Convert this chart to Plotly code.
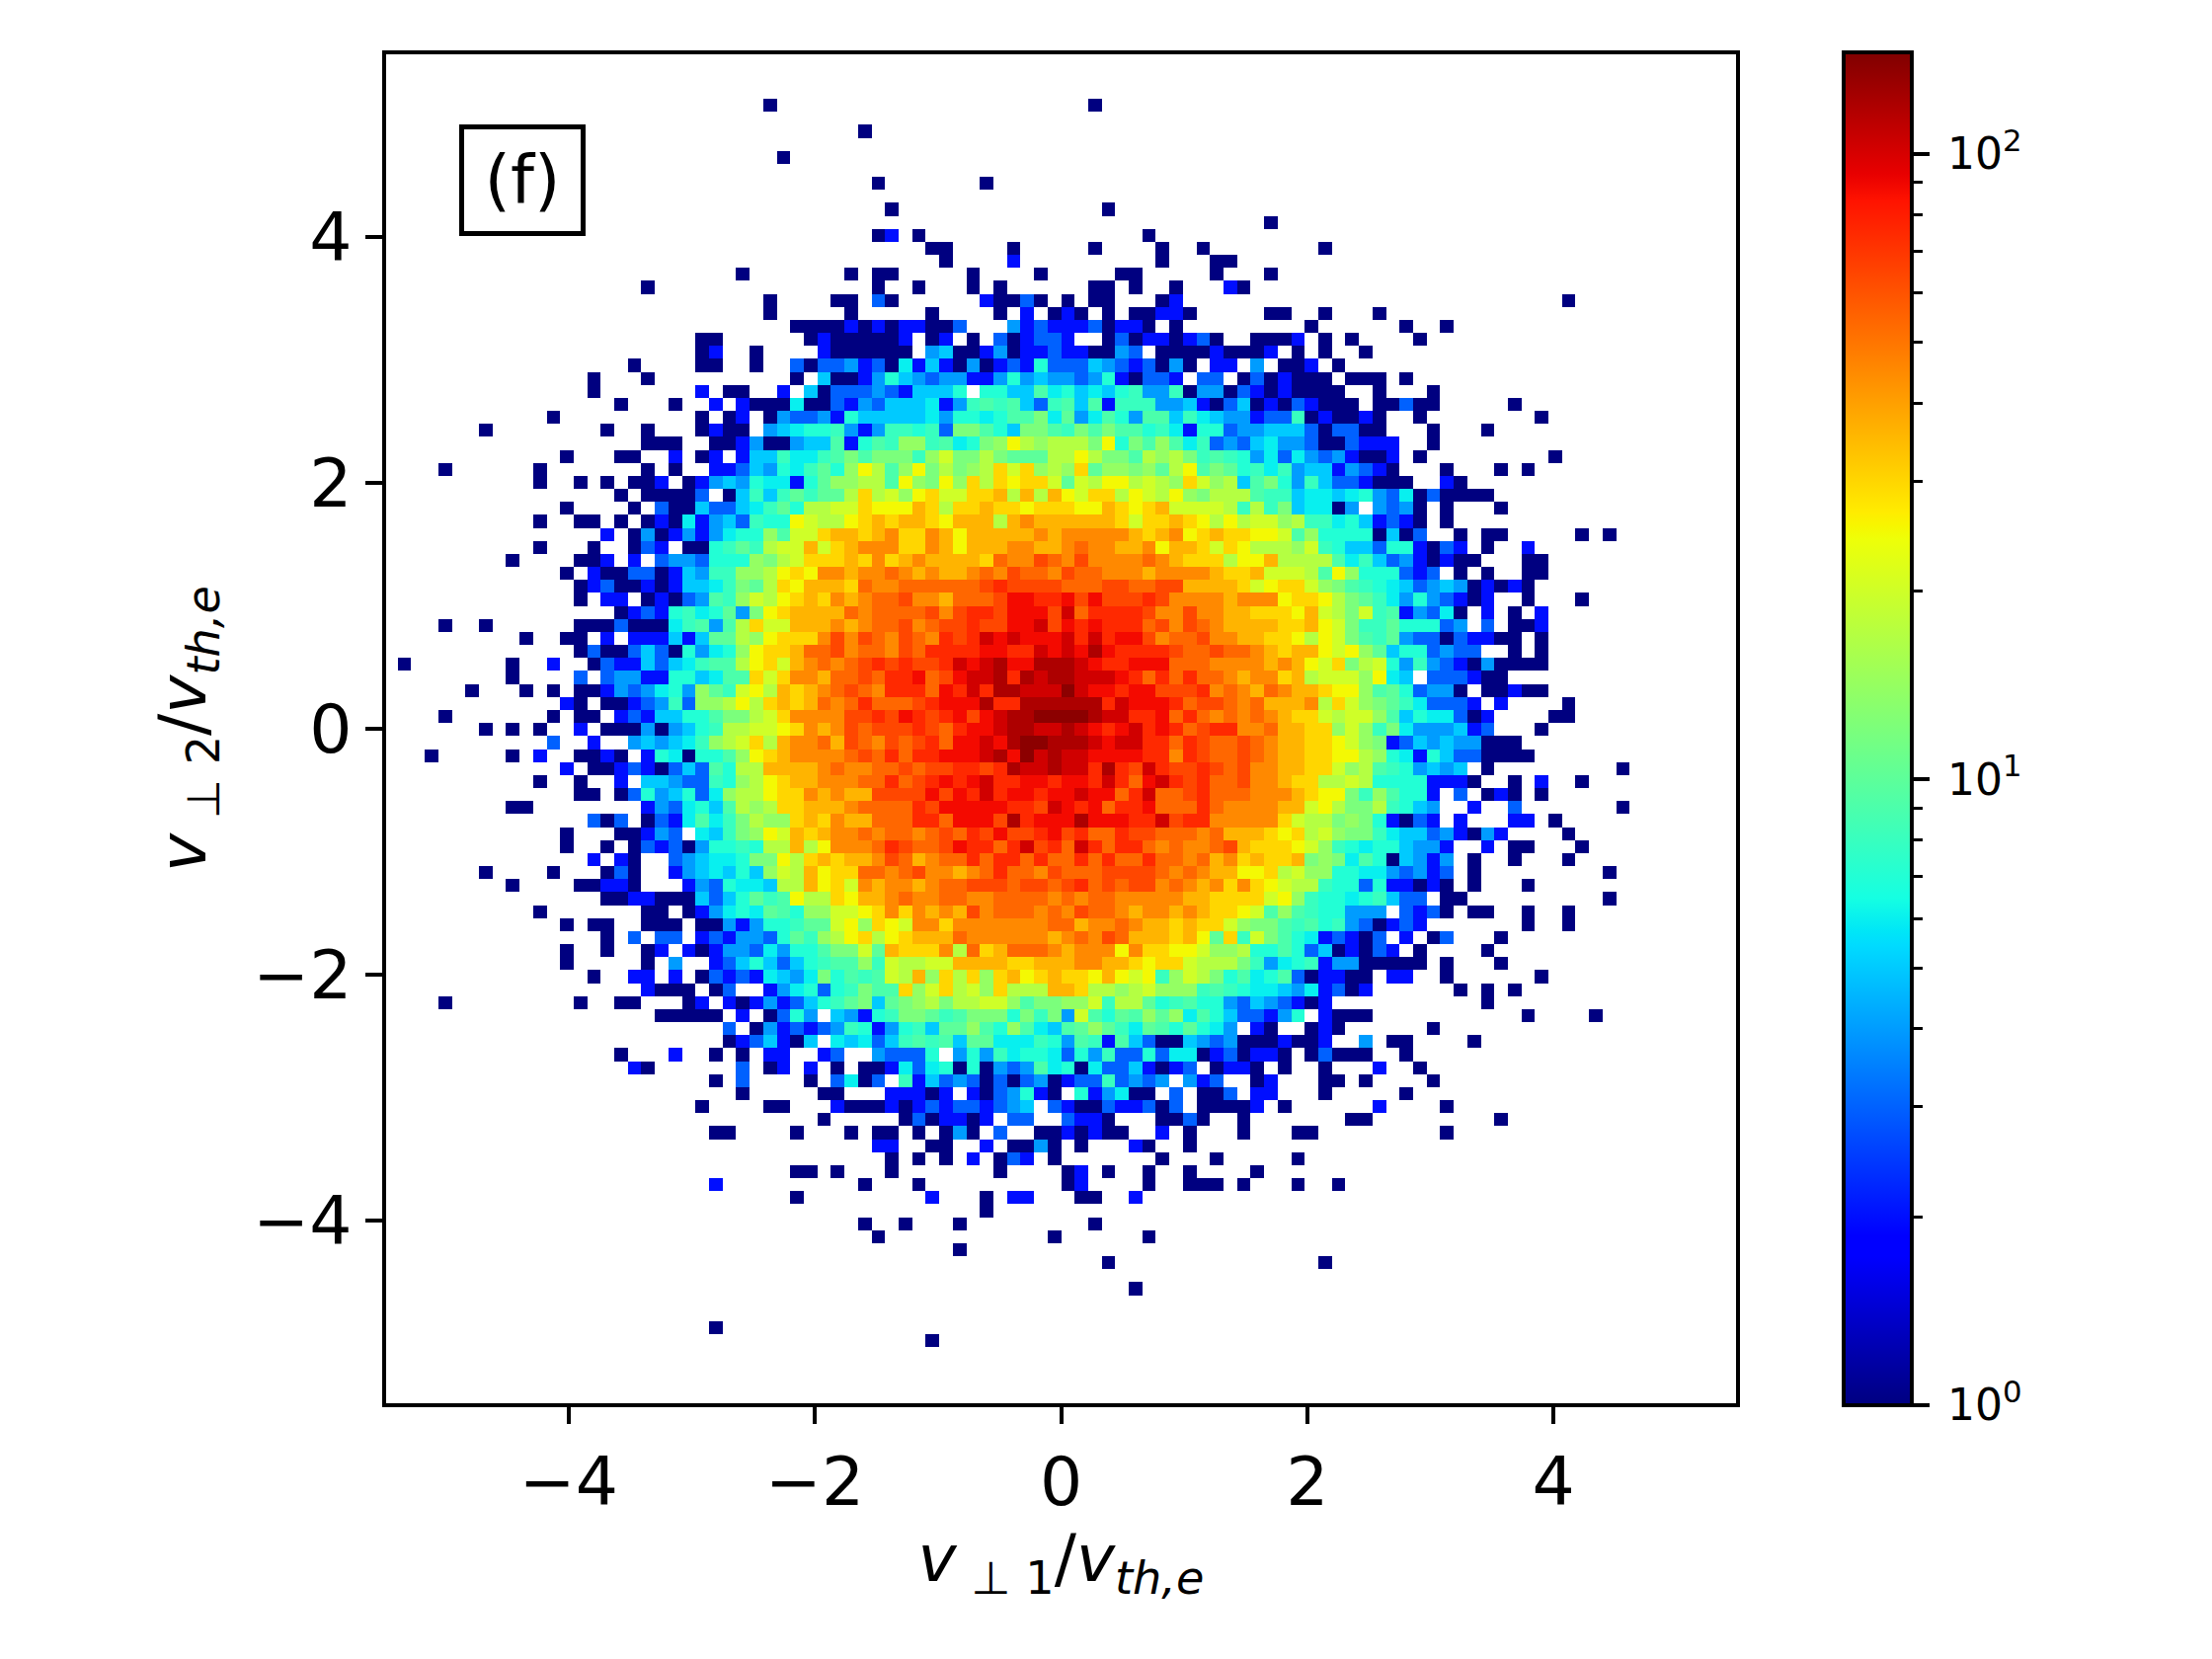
import math
import plotly.graph_objects as go

# Histogram counts, row by row from the top.
# Groups of ten columns; "_" = ten empty bins; "." = empty bin.
# 1-9 are literal counts, letters are the level table below.
LEVELS = {"a":10,"b":12,"c":14,"d":17,"e":20,"f":25,"g":30,"h":36,"i":45,"j":54,"k":64,"l":75,"m":88,"n":103,"o":120,"p":138}
COUNT_ROWS = [
"","","",
"_ _ ........1. _ _ ..1.......",
"",
"_ _ _ .....1....",
"",
"_ _ .........1",
"",
"_ _ _ ......1... ....1.....",
"",
"_ _ _ .......1.. _ ...1......",
"_ _ _ _ _ _ .....1....",
"_ _ _ ......12.1 _ ......1...",
"_ _ _ _ 11....1... ..1....1.. 1........1",
"_ _ _ _ .1....2... .......1.. .11.......",
"_ _ ......1... ....1.11.. ...1....1. ....11.... .1...1....",
"_ .........1 _ ......1..1 ...1.1.... ..11.1..1. ..21......",
"_ _ ........1. ...11.31.. ....21131. 1.11...12. _ _ .......1..",
"_ _ ........1. ....1..... 1....1.2.1 21.1.11221 .....11..1 ...1......",
"_ _ _ 1111212122 113...4232 2231221.1. ........1. .....1..1.",
"_ _ ...11..... .12111112. 12.1.31233 2..1312212 31..1112.1 .1....1...",
"_ _ ...12..1.. ..2111111. 4511241223 221143.111 121112.1.1 ..1.......",
"_ ........1. ...11..1.. 3133423162 5214123273 3354323141 .22.4.112. 1.........",
"_ .....1...1 _ 1.51124754 3442247454 434721332. 33.1312111 .111.1....",
"_ .....1.... ...2.11..2 .513334325 557.775596 7565784481 4413212111 1..1...1..",
"_ .......1.. .1..2.2111 6113243555 6248989538 9592888445 2135121321 11.11311.. ...1......",
"_ ..1....... ...1.12.14 3342755555 64776799b6 a469749958 6544233812 1121..1... .....1....",
".......1.. ......1..1 ...1211.45 6778424887 83bb975bb9 8b9b997862 7734455531 3311...1.. .1........",
"_ .........1 11..112411 45592798cc 8967bcfdcd ddbf7b9c96 8343564431 13222..1..",
"_ ...1...11. .2.12.2558 6689b9bbb8 cebbdbaaad dfdbb9dcdb 8987463643 42112.1... ......1...",
"....1..... .1.......1 .1..223547 68a7cfd9cf bdbcdgegcd cgaccbcadf 9ba7868455 24321...1. ..1.1.....",
"_ .1..1.1.11 2.12454766 27accdd9fc bfcgdgfgge aedffdedcg ecd59b7485 332111..21",
"_ .......1.1 1113.15858 a8aadgdecf geegghdhdh feggdfedfc bddd988566 5674361311 11........",
"_ ...1....1. 311533568a 7ddeegfffh gdgghggfgg gffhgfghee eed8d8b566 14.4341.1. ..1.......",
"_ .1..11.1.1 2162453877 feddfghghh gfhhhdhihh hhhhgegghg fdfdeecd88 6752321.1.",
"_ ......2.14 12424677c9 eeghhghigg ihfhhhhhih iiiiihghif ghggffe9c7 7771513..1 .11.....1. 1.........",
"_ .1...1..13 2.1178a8de eheghiiigg ihfhhhiihh ijiihhifhh gegfdddce8 7553772132 .1..2.....",
".........1 ....112.2. 3443777cbd eggghgighi hhhhgjiikj ikiiiijihg ggdffhdddd 9685342121 1...11....",
"_ ...1.21133 125488ccdf gfiihiijih ihhijikjji kjjiiihiii ihggheeed9 fc777323.1 .1..11....",
"_ ....123112 125568badg fhhhgjiijj jjjjklkkkk jjjkkjjkkh hhhgefggec b987653454 12121.....",
"_ ....1.22.1 213498cedf ghgihijjki ihjjjkmmll mkmkkklkii iihiiifggf dba8647432 12..1...1.",
"_ .......123 27867a4bfg hhhhjijjjj kikllkmmmk njllllkiik iihhgggfhe dbe8924361 .2.1.2....",
"....1..1.. ....111311 168949dgee hhhihijjki jkklkkmmnk mlmllljkik jihhhhgghf eb88a77734 .3.112....",
"_ 1..11.2.22 2525aadcfg ggikikjikj ilklnmnmmm nlnlmmkijj kiihhggfdf eb98a43313 2211.1....",
"_ ....131135 317467cfgg hjjkijjikj llllmmllnm nmomllllkj jkjjihghhf efca577343 3..1.1....",
".1.......1 ..2..13225 356899dfge hijijklklk klnmnommoo onmllmmmjj jiiiihihfe gbde748432 141111....",
".........1 ....3.3442 2775699geg iihjjkjllm jkmnnolono onnnmljljl jjihiighde eecf65.333 211.......",
"......1... 1.1.112434 674ca8efdh ghijkjilll jmlnloonnn pnmmlmmkkk lijihjihhg ffc9a73441 .11211....",
"_ ...21.1123 483ccdfdgh ghjijljjjk lmmmollooo ooolnmmmlj kkjijhhhid gecba86333 2.2....1..",
"....1..... ..1.11.232 55779bbdeg iiiikklkml klmkmnoopp pponnllmjl jijijihgge deec957663 12....11..",
".......1.1 .1..2.1114 14578ddeef gihikjkkkl kjlmmnoonn onmlmnlmlj klliijhhgg cec8b64445 23...1....",
"_ ..3..2..45 4568cdegdh iijhkjikjk ljmmnmoppo oonmnnlljl kjjkjihhgg fecb235454 4111......",
"...1.....1 .2..1121.2 761779cfgh iiiijkjljl lmmmnompno nnmmmmllil kjjkjihhgg ffdc762753 31111.....",
"_ ...2.11232 135397ddhh hhijiijjkj kkllklonno nnlolknlkk lkjkiihhgg ecd9874545 .1........ .1........",
"_ .1..1..2.5 543387cdfg hhiiijjljk lmlmnllmml mmlnljmnlk ljjkiihggd ded7777222 1..1.2..1.",
"_ ....11.137 45736cddfg gihihhkkkk mkmlnlmmlm mnmmjlnjjk ljjjiiihgf fb8c9772.3 .121.1....",
".........1 1........2 436759dcdg ghhhijjjjl kmmmmmllkn mlmjllmjjj ljiiiihhef dbbd8754.. 2..3...... .1........",
"_ .....313.1 326968bdcc ghgihhjjjl ljmmmkolmm mommmllnkl liiiiigedd bcb72132.2 ...22.1...",
"_ ...1...112 43.658bcfe hghiijijji jkjlkmkklm kljjlkkjjj ijhhhgfgde cbb8655342 142....1..",
"_ ...1..1.13 23147787dd hdfiiijlkj jkmlljlnkl jnljlljiji ijkhgggfec 876775442. .2.11...1.",
"_ .....2.21. .345667bbf dghghhikjh ijjljlljlj jljljjljji jhighgghbc b69715424. 1..1...1..",
".......1.. ..1...131. .2456575ce dhfggjjijk iihijljjik jjjkkkkjij ihhffgdecc 776643423. 1......... 1.........",
".........1 ....11221. ..2437665d dhfgeihiih ijjkkkjkkj kljkjkkiji higigfedd8 773722121. 1...1.....",
"_ ......1122 1115357a89 fddgfhhiji ijjiijjjji jijjiiiiih hggggefc87 7678533.11 _ 1.........",
"_ .1.......1 1.124676a9 7cceefgigi hihkijjjij ikjjihiihi hggfe9c987 7444.3231. 11..1..1..",
"_ ...1.11..1 11.1142477 8aaefcgfei igiiiiiiij jhiijihhgh ggecbb9897 8431232... ....1..1..",
"_ ......1.3. 33.2324437 a8cdfgdfgh hhjiiiiiih ijikjhhhgh fag8eb9762 3213.2.13. ..1.......",
"_ ...1..1..1 2.21244364 779bbeahgg gidjghjjji hiiifiggff eccd779735 12132.1... .1........",
"_ ...1.....1 .4..235753 57899c8edd eehhhhgghh hiihhgfgge dddb846782 4411111.1. ..1.......",
"_ .....1..22 .2.1323265 46b7989edh cgdgcghfgh ggfhfef8ce db79679312 211.22..1. .....1....",
"_ .........2 111.13..24 67378b99gc egdecgdddh hgddcdeccc 8987665462 312......1 .1.1......",
"....1..... ....1..11. ..12.21242 3578ab5abc dbddeec9bb cce8dda789 7743543212 _ .1........",
"_ _ 11111.2.13 74.54278bb a89bbb7b8b 4e97a9cac6 97533247.2 111....... ....1....1",
"_ _ .....3.142 3234872478 5aac97c965 9aca86a97a 764.21..12 1......1..",
"_ _ .....12352 15.6563589 895aa66687 4982953115 4341112112 ..4.11.... 1.........",
"_ .......1.. .2..1.1.22 ..23..4333 7.47486776 3748337366 1231221.13 111..1....",
"_ ........21 ......3.12 .2.1.11263 6717143496 7163352123 .1221.1..1 ...2..1...",
"_ _ ....1.3... .1.3613.82 5343131341 23383434.4 23..12...1 1.1....1..",
"_ _ ......1... ..11...222 12.2134721 .724611.3. 113.22...1 .....1....",
"_ _ ...1....11 ...2111212 32332345.3 211322313. 11112.1... ...2....1.",
"_ _ _ ..1.....13 12212.33.. 3221...113 1..1...... .11....... ..1.......",
"_ _ ....11.... 1...1.11.1 .141.3..11 21211..2.1 ...1...11. ........1.",
"_ _ _ ......22.. 11..2.1141 .1...21..1",
"_ _ _ .......1.1 .1.2.132.1 .......1.. .1.....1..",
"_ _ _ 11.1...1.. .....1.... 12.1..1..1 ....1.....",
"_ _ ....2..... .....1...1 _ 12....1..1 11.1...1.. 1.........",
"_ _ _ 1......... 2...1.22.. .11..2....",
"_ _ _ _ ....1.....",
"_ _ _ .....1..1. ..1....... ..1.......",
"_ _ _ ......1... .........1 ......1...",
"_ _ _ _ ..1.......",
"_ _ _ _ _ ...1...... .........1",
"",
"_ _ _ _ _ .....1....",
"","",
"_ _ ....1.....",
"_ _ _ _ 1.........",
"",
]
X_TICKS = [-4, -2, 0, 2, 4]
Y_TICKS = [-4, -2, 0, 2, 4]
CB_MAJOR = [0, 1, 2]
CB_LABELS = ["\u200910<sup>0</sup>", "\u200910<sup>1</sup>", "\u200910<sup>2</sup>"]
CB_MINOR = [2, 3, 4, 5, 6, 7, 8, 9, 20, 30, 40, 50, 60, 70, 80, 90]
VMAX = 145.4
JET = [(0, "rgb(0,0,128)"), (.11, "rgb(0,0,255)"), (.125, "rgb(0,0,255)"), (.34, "rgb(0,219,255)"),
       (.35, "rgb(0,230,247)"), (.375, "rgb(21,255,226)"), (.64, "rgb(238,255,8)"), (.65, "rgb(247,246,0)"),
       (.66, "rgb(255,236,0)"), (.89, "rgb(255,19,0)"), (.91, "rgb(232,0,0)"), (1, "rgb(128,0,0)")]

NX = 100
DX = 0.11
DY = 0.10577
Y_FIRST = 5.387


def parse(row):
    out = []
    for grp in row.split():
        grp = "." * 10 if grp == "_" else grp
        out.extend((grp + "." * 10)[:10])
    out += ["."] * (NX - len(out))
    vals = []
    for ch in out:
        if ch == ".":
            vals.append(None)
        elif ch.isdigit():
            vals.append(math.log10(int(ch)))
        else:
            vals.append(math.log10(LEVELS[ch]))
    return vals


z = [parse(r) for r in COUNT_ROWS]
x_centres = [-5.5 + DX * (i + 0.5) for i in range(NX)]
y_centres = [Y_FIRST - DY * i for i in range(len(z))]

LEFT, RIGHT, TOP, BOTTOM = 391, 1936, 55, 1421
AX_RIGHT, CB_LEFT = 1758, 1867
W = RIGHT - LEFT
H = BOTTOM - TOP
BLACK = "#000000"
FONT = "DejaVu Sans"
X_HALF = 5.5 * (AX_RIGHT - LEFT) / 1371
Y_HALF = 5.5 * (BOTTOM - TOP) / 1370
CB_SPILL = 2          # colour bar reaches the spine centres, 2px beyond the plot area
DECADE_PX = 633.5
LOG_PAD = CB_SPILL / DECADE_PX

fig = go.Figure()
fig.add_trace(go.Heatmap(
    x=x_centres, y=y_centres, z=z, zmin=0, zmax=math.log10(VMAX), colorscale=JET,
    hoverongaps=False, zsmooth=False,
    colorbar=dict(
        x=(CB_LEFT - LEFT) / W, xanchor="left", xpad=0, ypad=0, y=-CB_SPILL / H, yanchor="bottom",
        len=(H + 2 * CB_SPILL) / H, lenmode="fraction",
        thickness=69, thicknessmode="pixels", outlinewidth=3.9, outlinecolor=BLACK,
        tickmode="array", tickvals=CB_MAJOR, ticktext=CB_LABELS, ticks="outside", ticklen=17, tickwidth=3.9,
        tickcolor=BLACK, tickfont=dict(family=FONT, size=44, color=BLACK),
    ),
))
fig.add_trace(go.Scatter(x=[0], y=[1.5], xaxis="x2", yaxis="y2", mode="markers", marker=dict(opacity=0),
                         showlegend=False, hoverinfo="skip"))
fig.update_layout(
    width=2240, height=1680, paper_bgcolor="white", plot_bgcolor="white", showlegend=False,
    margin=dict(l=LEFT, r=2240 - RIGHT, t=TOP, b=1680 - BOTTOM, pad=0, autoexpand=False),
    font=dict(family=FONT, color=BLACK),
    xaxis=dict(domain=[0, (AX_RIGHT - LEFT) / W], range=[-X_HALF, X_HALF], tickmode="array", tickvals=X_TICKS,
               ticks="outside", ticklen=17, tickwidth=3.9, tickcolor=BLACK, showline=True, linewidth=3.9,
               linecolor=BLACK, mirror=True, showgrid=False, zeroline=False,
               tickfont=dict(family=FONT, size=68, color=BLACK),
               title=dict(text="<i>v</i><sub> ⊥ 1</sub>/<i>v</i><sub><i>th,e</i></sub>",
                          font=dict(family=FONT, size=66, color=BLACK), standoff=8)),
    yaxis=dict(range=[-Y_HALF, Y_HALF], tickmode="array", tickvals=Y_TICKS,
               ticks="outside", ticklen=17, tickwidth=3.9, tickcolor=BLACK, showline=True, linewidth=3.9,
               linecolor=BLACK, mirror=True, showgrid=False, zeroline=False,
               tickfont=dict(family=FONT, size=68, color=BLACK),
               title=dict(text="<i>v</i><sub> ⊥ 2</sub>/<i>v</i><sub><i>th,e</i></sub>",
                          font=dict(family=FONT, size=66, color=BLACK), standoff=27)),
    xaxis2=dict(domain=[(CB_LEFT - LEFT) / W, 1], visible=False, range=[-1, 1]),
    yaxis2=dict(type="log", range=[LOG_PAD, math.log10(VMAX) - LOG_PAD], anchor="x2", side="right", showgrid=False,
                zeroline=False, showline=False, tickmode="array", tickvals=[], showticklabels=False, ticks="",
                minor=dict(tickmode="array", tickvals=CB_MINOR, ticks="outside", ticklen=10, tickwidth=2.9,
                           tickcolor=BLACK)),
    annotations=[dict(x=-4.38, y=4.46, xref="x", yref="y", text="(f)", showarrow=False, width=116, height=101,
                      bordercolor=BLACK, borderwidth=5, bgcolor="white", valign="middle", align="center",
                      font=dict(family=FONT, size=68, color=BLACK))],
)
fig.write_html("out.html", post_script="document.body.style.margin='0';", config={"displayModeBar": False})
